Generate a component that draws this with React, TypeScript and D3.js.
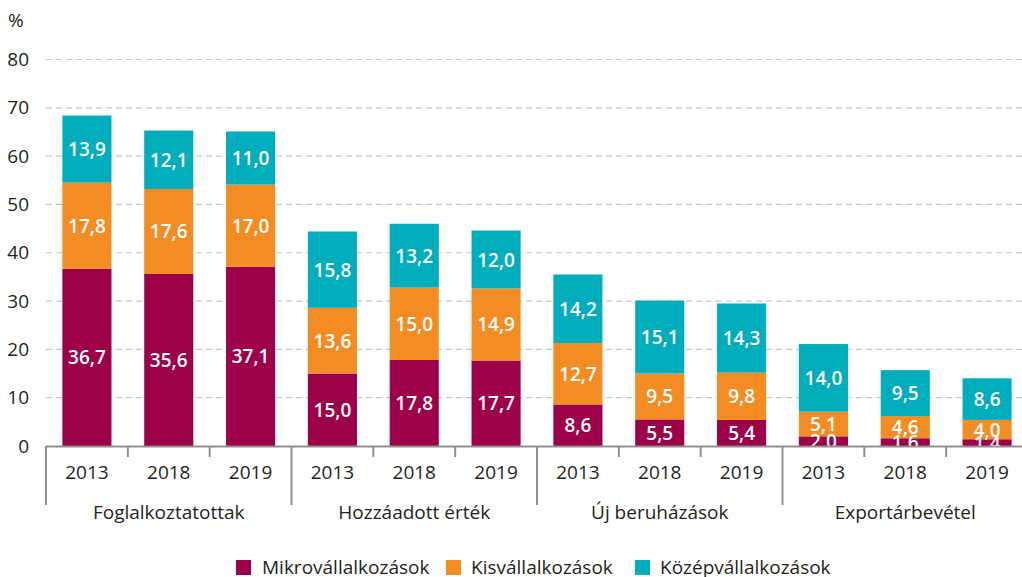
import React from "react";
import * as d3 from "d3";

const categories = ["Foglalkoztatottak", "Hozzáadott érték", "Új beruházások", "Exportárbevétel"];
const years = ["2013", "2018", "2019"];
const seriesNames = ["Mikrovállalkozások", "Kisvállalkozások", "Középvállalkozások"];
const seriesColors = ["#9c0049", "#f38c22", "#00adbc"];
// values per category, per year
const mikro = [
  [36.7, 35.6, 37.1],
  [15.0, 17.8, 17.7],
  [8.6, 5.5, 5.4],
  [2.0, 1.6, 1.4],
];
const kis = [
  [17.8, 17.6, 17.0],
  [13.6, 15.0, 14.9],
  [12.7, 9.5, 9.8],
  [5.1, 4.6, 4.0],
];
const kozep = [
  [13.9, 12.1, 11.0],
  [15.8, 13.2, 12.0],
  [14.2, 15.1, 14.3],
  [14.0, 9.5, 8.6],
];
const yTicks = [0, 10, 20, 30, 40, 50, 60, 70, 80];

const W = 1022;
const H = 577;
const FONT = "'Open Sans', 'Noto Sans', sans-serif";
const fmt = (v: number) => v.toFixed(1).replace(".", ",");

export default function App() {
  const left = 46;
  const groupW = 245.5;
  const x0 = d3.scaleBand<string>().domain(categories).range([left, left + groupW * categories.length]).padding(0);
  const x1 = d3.scaleBand<string>().domain(years).range([0, groupW]).paddingInner(0.4).paddingOuter(0.2);
  const step = groupW / years.length;
  const y = d3.scaleLinear().domain([0, 80]).range([446, 59.5]);

  const rows = categories.flatMap((c, ci) =>
    years.map((yr, yi) => ({ c, yr, vals: [mikro[ci][yi], kis[ci][yi], kozep[ci][yi]] }))
  );
  const stack = d3.stack<any>().keys(["0", "1", "2"]).value((d: any, k: string) => d.vals[+k]);
  const stacked = stack(rows as any);

  const legendItems = [
    { x: 236, tx: 262 },
    { x: 446, tx: 471 },
    { x: 635, tx: 660 },
  ];

  return (
    <svg width={W} height={H} style={{ position: "absolute", left: 0, top: 0, background: "#fff" }} fontFamily={FONT}>
      {/* gridlines */}
      {yTicks.filter((t) => t > 0).map((t) => (
        <line key={t} x1={left} x2={W} y1={y(t)} y2={y(t)} stroke="#c6c6c6" strokeWidth={1.2} strokeDasharray="6,4" />
      ))}
      {/* y tick labels */}
      {yTicks.map((t) => (
        <text key={t} x={29} y={y(t) + 6.5} textAnchor="end" fontSize={19} fill="#231f20">{t}</text>
      ))}
      <text x={8} y={27} fontSize={19} fill="#231f20">%</text>

      {/* bars */}
      {stacked.map((layer, si) =>
        layer.map((seg, i) => {
          const r = rows[i];
          const bx = (x0(r.c) as number) + (x1(r.yr) as number);
          const bw = x1.bandwidth();
          const y0 = y(seg[0]);
          const y1v = y(seg[1]);
          return (
            <g key={`${si}-${i}`}>
              <rect x={bx} y={y1v} width={bw} height={y0 - y1v} fill={seriesColors[si]} />
            </g>
          );
        })
      )}
      {stacked.map((layer, si) =>
        layer.map((seg, i) => {
          const r = rows[i];
          const bx = (x0(r.c) as number) + (x1(r.yr) as number) + x1.bandwidth() / 2;
          const cy = (y(seg[0]) + y(seg[1])) / 2;
          return (
            <text key={`t${si}-${i}`} x={bx} y={cy + 7} textAnchor="middle" fontSize={19} fontWeight={600} fill="#fff">
              {fmt(r.vals[si])}
            </text>
          );
        })
      )}

      {/* x axis */}
      <line x1={left} x2={W} y1={446.5} y2={446.5} stroke="#8f8f8f" strokeWidth={2} />
      {categories.map((c) => (
        <g key={c}>
          <line x1={x0(c) as number} x2={x0(c) as number} y1={446} y2={505} stroke="#8f8f8f" strokeWidth={2} />
          {years.slice(1).map((yr, yi) => (
            <line key={yr} x1={(x0(c) as number) + step * (yi + 1)} x2={(x0(c) as number) + step * (yi + 1)} y1={446} y2={457} stroke="#8f8f8f" strokeWidth={2} />
          ))}
          {years.map((yr) => (
            <text key={yr} x={(x0(c) as number) + (x1(yr) as number) + x1.bandwidth() / 2} y={479} textAnchor="middle" fontSize={19} fill="#231f20">{yr}</text>
          ))}
          <text x={(x0(c) as number) + groupW / 2} y={519} textAnchor="middle" fontSize={19} fill="#231f20">{c}</text>
        </g>
      ))}

      {/* legend */}
      {seriesNames.map((n, i) => (
        <g key={n}>
          <rect x={legendItems[i].x} y={560} width={15} height={15} fill={seriesColors[i]} />
          <text x={legendItems[i].tx} y={574} fontSize={19} fill="#231f20">{n}</text>
        </g>
      ))}
    </svg>
  );
}
